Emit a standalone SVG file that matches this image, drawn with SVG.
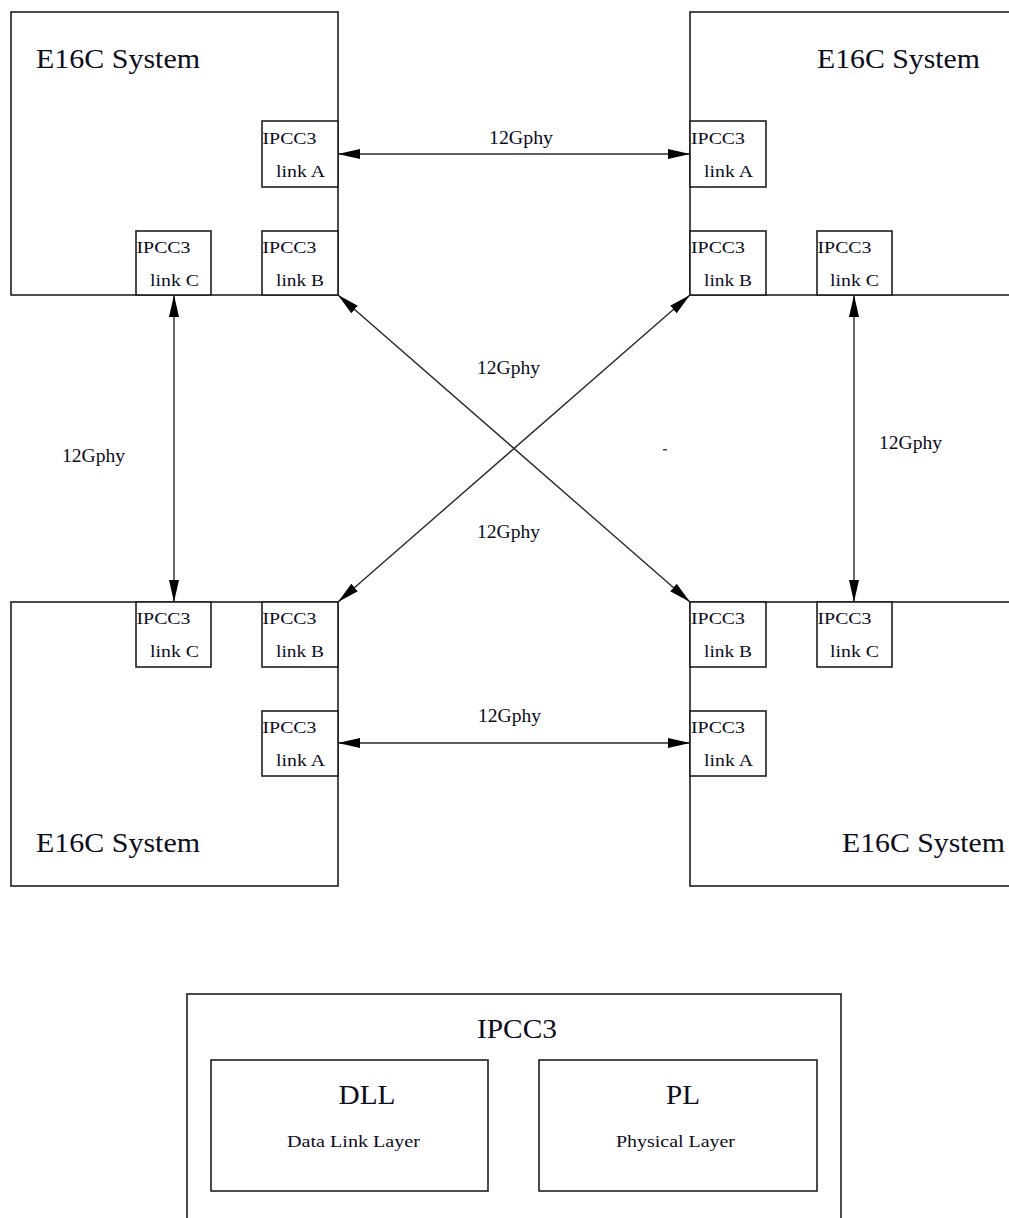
<svg xmlns="http://www.w3.org/2000/svg" width="1009" height="1218" viewBox="0 0 1009 1218">
  <style>
    .box { fill: #ffffff; stroke: #1e1e1e; stroke-width: 1.6; }
    .t { font-family: "Liberation Serif", "Times New Roman", serif; fill: #0c0c1c; }
    .sys { font-size: 27px; }
    .port { font-size: 17px; }
    .lnk { font-size: 16px; }
    .lbl { font-size: 18px; }
    .big { font-size: 28px; }
    .sub { font-size: 16px; }
    .conn { stroke: #2a2a2a; stroke-width: 1.4; fill: none; marker-start: url(#ah); marker-end: url(#ah); }
  </style>
  <defs>
    <marker id="ah" viewBox="0 0 22 10" refX="22" refY="5" markerWidth="22" markerHeight="10" markerUnits="userSpaceOnUse" orient="auto-start-reverse">
      <path d="M0,0 L22,5 L0,10 z" fill="#000000"/>
    </marker>
  </defs>
  <rect width="1009" height="1218" fill="#ffffff"/>

  <!-- Top-left system -->
  <g id="sys-tl">
    <rect class="box" x="11" y="12" width="327" height="283"/>
    <text class="t sys" x="36" y="68" textLength="164" lengthAdjust="spacingAndGlyphs">E16C System</text>
  </g>
  <g id="tl-linkA">
    <rect class="box" x="262" y="121" width="76" height="66"/>
    <text class="t port" x="262.5" y="144" textLength="54" lengthAdjust="spacingAndGlyphs">IPCC3</text>
    <text class="t lnk" x="276" y="177" textLength="49" lengthAdjust="spacingAndGlyphs">link A</text>
  </g>
  <g id="tl-linkB">
    <rect class="box" x="262" y="231" width="76" height="64"/>
    <text class="t port" x="262.5" y="253" textLength="54" lengthAdjust="spacingAndGlyphs">IPCC3</text>
    <text class="t lnk" x="276" y="286" textLength="48" lengthAdjust="spacingAndGlyphs">link B</text>
  </g>
  <g id="tl-linkC">
    <rect class="box" x="136" y="231" width="75" height="64"/>
    <text class="t port" x="136.5" y="253" textLength="54" lengthAdjust="spacingAndGlyphs">IPCC3</text>
    <text class="t lnk" x="150" y="286" textLength="49" lengthAdjust="spacingAndGlyphs">link C</text>
  </g>

  <!-- Top-right system -->
  <g id="sys-tr">
    <rect class="box" x="690" y="12" width="330" height="283"/>
    <text class="t sys" x="817" y="68" textLength="163" lengthAdjust="spacingAndGlyphs">E16C System</text>
  </g>
  <g id="tr-linkA">
    <rect class="box" x="690" y="121" width="76" height="66"/>
    <text class="t port" x="691" y="144" textLength="54" lengthAdjust="spacingAndGlyphs">IPCC3</text>
    <text class="t lnk" x="704" y="177" textLength="49" lengthAdjust="spacingAndGlyphs">link A</text>
  </g>
  <g id="tr-linkB">
    <rect class="box" x="690" y="231" width="76" height="64"/>
    <text class="t port" x="691" y="253" textLength="54" lengthAdjust="spacingAndGlyphs">IPCC3</text>
    <text class="t lnk" x="704" y="286" textLength="48" lengthAdjust="spacingAndGlyphs">link B</text>
  </g>
  <g id="tr-linkC">
    <rect class="box" x="817" y="231" width="75" height="64"/>
    <text class="t port" x="817.5" y="253" textLength="54" lengthAdjust="spacingAndGlyphs">IPCC3</text>
    <text class="t lnk" x="830" y="286" textLength="49" lengthAdjust="spacingAndGlyphs">link C</text>
  </g>

  <!-- Bottom-left system -->
  <g id="sys-bl">
    <rect class="box" x="11" y="602" width="327" height="284"/>
    <text class="t sys" x="36" y="852" textLength="164" lengthAdjust="spacingAndGlyphs">E16C System</text>
  </g>
  <g id="bl-linkC">
    <rect class="box" x="136" y="602" width="75" height="65"/>
    <text class="t port" x="136.5" y="624" textLength="54" lengthAdjust="spacingAndGlyphs">IPCC3</text>
    <text class="t lnk" x="150" y="657" textLength="49" lengthAdjust="spacingAndGlyphs">link C</text>
  </g>
  <g id="bl-linkB">
    <rect class="box" x="262" y="602" width="76" height="65"/>
    <text class="t port" x="262.5" y="624" textLength="54" lengthAdjust="spacingAndGlyphs">IPCC3</text>
    <text class="t lnk" x="276" y="657" textLength="48" lengthAdjust="spacingAndGlyphs">link B</text>
  </g>
  <g id="bl-linkA">
    <rect class="box" x="262" y="711" width="76" height="65"/>
    <text class="t port" x="262.5" y="733" textLength="54" lengthAdjust="spacingAndGlyphs">IPCC3</text>
    <text class="t lnk" x="276" y="766" textLength="49" lengthAdjust="spacingAndGlyphs">link A</text>
  </g>

  <!-- Bottom-right system -->
  <g id="sys-br">
    <rect class="box" x="690" y="602" width="330" height="284"/>
    <text class="t sys" x="842" y="852" textLength="163" lengthAdjust="spacingAndGlyphs">E16C System</text>
  </g>
  <g id="br-linkB">
    <rect class="box" x="690" y="602" width="76" height="65"/>
    <text class="t port" x="691" y="624" textLength="54" lengthAdjust="spacingAndGlyphs">IPCC3</text>
    <text class="t lnk" x="704" y="657" textLength="48" lengthAdjust="spacingAndGlyphs">link B</text>
  </g>
  <g id="br-linkC">
    <rect class="box" x="817" y="602" width="75" height="65"/>
    <text class="t port" x="817.5" y="624" textLength="54" lengthAdjust="spacingAndGlyphs">IPCC3</text>
    <text class="t lnk" x="830" y="657" textLength="49" lengthAdjust="spacingAndGlyphs">link C</text>
  </g>
  <g id="br-linkA">
    <rect class="box" x="690" y="711" width="76" height="65"/>
    <text class="t port" x="691" y="733" textLength="54" lengthAdjust="spacingAndGlyphs">IPCC3</text>
    <text class="t lnk" x="704" y="766" textLength="49" lengthAdjust="spacingAndGlyphs">link A</text>
  </g>

  <!-- Connectors -->
  <g id="connectors">
    <line class="conn" x1="338" y1="154" x2="690" y2="154"/>
    <line class="conn" x1="338" y1="743" x2="690" y2="743"/>
    <line class="conn" x1="174" y1="295" x2="174" y2="602"/>
    <line class="conn" x1="854" y1="295" x2="854" y2="602"/>
    <line class="conn" x1="338" y1="295" x2="690" y2="602"/>
    <line class="conn" x1="690" y1="295" x2="338" y2="602"/>
  </g>
  <g id="connector-labels">
    <text class="t lbl" x="489" y="144" textLength="64" lengthAdjust="spacingAndGlyphs">12Gphy</text>
    <text class="t lbl" x="478" y="722" textLength="63" lengthAdjust="spacingAndGlyphs">12Gphy</text>
    <text class="t lbl" x="62" y="462" textLength="63" lengthAdjust="spacingAndGlyphs">12Gphy</text>
    <text class="t lbl" x="879" y="449" textLength="63" lengthAdjust="spacingAndGlyphs">12Gphy</text>
    <text class="t lbl" x="477" y="374" textLength="63" lengthAdjust="spacingAndGlyphs">12Gphy</text>
    <text class="t lbl" x="477" y="538" textLength="63" lengthAdjust="spacingAndGlyphs">12Gphy</text>
  </g>
  <rect x="663" y="449" width="4" height="1.5" fill="#444444"/>

  <!-- IPCC3 legend -->
  <g id="ipcc3">
    <rect class="box" x="187" y="994" width="654" height="240"/>
    <text class="t big" x="477" y="1038" textLength="80" lengthAdjust="spacingAndGlyphs">IPCC3</text>
  </g>
  <g id="dll">
    <rect class="box" x="211" y="1060" width="277" height="131"/>
    <text class="t big" x="338.5" y="1104" textLength="57" lengthAdjust="spacingAndGlyphs">DLL</text>
    <text class="t sub" x="287" y="1147" textLength="133" lengthAdjust="spacingAndGlyphs">Data Link Layer</text>
  </g>
  <g id="pl">
    <rect class="box" x="539" y="1060" width="278" height="131"/>
    <text class="t big" x="666" y="1104" textLength="34" lengthAdjust="spacingAndGlyphs">PL</text>
    <text class="t sub" x="616" y="1147" textLength="119" lengthAdjust="spacingAndGlyphs">Physical Layer</text>
  </g>
</svg>
